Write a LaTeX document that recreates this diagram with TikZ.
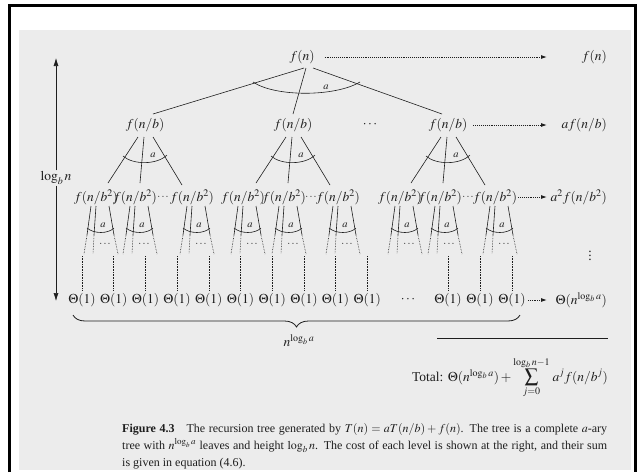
\documentclass[tikz,border=0pt]{standalone}
\usepackage{mathptmx}
\usepackage{fontspec}
\setmainfont{Liberation Serif}
\usetikzlibrary{arrows.meta,decorations.pathreplacing}

\definecolor{panel}{RGB}{236,236,236}
\definecolor{ink}{RGB}{30,30,30}

\begin{document}
\begin{tikzpicture}[x=1pt, y=-1pt,
    every node/.style={text=ink, inner sep=1pt, font=\fontsize{13.5}{15}\selectfont},
    arity/.style={inner sep=0pt, font=\fontsize{10.5}{12}\selectfont},
    branch/.style={draw=ink, line width=0.6pt},
    trail/.style={draw=ink, densely dotted, line width=0.6pt},
    cost/.style={draw=ink, densely dotted, line width=0.9pt, -{Latex[length=6pt,width=4pt]}},
    levelarrow/.style={draw=ink, line width=0.6pt, -{Latex[length=8pt,width=5pt]}}]
    % page
    \useasboundingbox (0,0) rectangle (638,472);
    \fill[white] (0,0) rectangle (638,472);
    \fill[panel] (19,30) rectangle (631,470);
    \draw[line width=2.8pt] (9.5,472) -- (9.5,5.5) -- (635.5,5.5) -- (635.5,472);

    % root
    \node (r) at (302,57) {$f(n)$};
    \node[anchor=east] (c0) at (608,57) {$f(n)$};
    \coordinate (t0) at (547,57);
    \draw[cost] ([xshift=9pt]r.east) -- (t0);

    % level 1
    \node (p1) at (145,125) {$f(n/b)$};
    \node (p2) at (293,125) {$f(n/b)$};
    \node (pd) at (370,125) {$\cdots$};
    \node (p3) at (448,125) {$f(n/b)$};
    \node[anchor=east] (c1) at (608,125) {$af(n/b)$};
    \coordinate (t1) at (547,125);
    \draw[cost] ([xshift=5pt]p3.east) -- (t1);

    \draw[branch] ([shift={(2,11)}]r.center) -- ([shift={(8,-11)}]p1.center);
    \draw[branch] ([shift={(4,11)}]r.center) -- ([shift={(0,-11)}]p2.center);
    \draw[branch] ([shift={(11,11)}]r.center) -- ([shift={(-6,-11)}]p3.center);
    \draw[branch] (253,82) .. controls (275,97) and (335,97) .. (360,82);
    \node[arity] (a0) at (326,87) {$a$};

    % level 2
    \node (q1) at (96,197) {$f(n/b^2)$};
    \node (q2) at (135,197) {$f(n/b^2)$};
    \node[arity] (qd1) at (163,197) {$\cdots$};
    \node (q3) at (192,197) {$f(n/b^2)$};
    \node (q4) at (243,197) {$f(n/b^2)$};
    \node (q5) at (284,197) {$f(n/b^2)$};
    \node[arity] (qd2) at (311,197) {$\cdots$};
    \node (q6) at (338,197) {$f(n/b^2)$};
    \node (q7) at (400,197) {$f(n/b^2)$};
    \node (q8) at (440,197) {$f(n/b^2)$};
    \node[arity] (qd3) at (468,197) {$\cdots$};
    \node (q9) at (495,197) {$f(n/b^2)$};
    \node[anchor=east] (c2) at (608,197) {$a^2f(n/b^2)$};
    \coordinate (t2) at (547,197);
    \draw[cost] (q9.east) -- (t2);

    \draw[branch] ([shift={(-7,12)}]p1.center) -- ([shift={(12,-14)}]q1.center);
    \draw[branch] ([shift={(-1,12)}]p1.center) -- ([shift={(5,-14)}]q2.center);
    \draw[branch] ([shift={(8,12)}]p1.center) -- ([shift={(-10,-12)}]q3.center);
    \draw[branch] (123,156) .. controls (133,165) and (157,165) .. (167,155);
    \node[arity] (a1) at (153,155) {$a$};

    \draw[branch] ([shift={(-7,12)}]p2.center) -- ([shift={(13,-14)}]q4.center);
    \draw[branch] ([shift={(-1,12)}]p2.center) -- ([shift={(4,-14)}]q5.center);
    \draw[branch] ([shift={(8,12)}]p2.center) -- ([shift={(-8,-12)}]q6.center);
    \draw[branch] (271,156) .. controls (281,165) and (305,165) .. (315,155);
    \node[arity] (a2) at (301,155) {$a$};

    \draw[branch] ([shift={(-7,12)}]p3.center) -- ([shift={(11,-14)}]q7.center);
    \draw[branch] ([shift={(-1,12)}]p3.center) -- ([shift={(3,-14)}]q8.center);
    \draw[branch] ([shift={(8,12)}]p3.center) -- ([shift={(-10,-12)}]q9.center);
    \draw[branch] (426,156) .. controls (436,165) and (460,165) .. (470,155);
    \node[arity] (a3) at (456,155) {$a$};

    % level 3, cut short
    \foreach \q in {q1,q2,q3,q4,q5,q6,q7,q8,q9} {
        \begin{scope}[shift={(\q.center)}]
            \draw[branch] (-5,9) -- (-9,38);
            \draw[branch] (0,9) -- (-2,38);
            \draw[branch] (13,9) -- (18,38);
            \draw[branch] (-9,31) .. controls (-2,37) and (12,37) .. (18,31);
            \draw[trail] (-9,38) -- (-12,57);
            \draw[trail] (-2,38) -- (-3,57);
            \draw[trail] (18,38) -- (22,57);
            \node[arity] (\q-a) at (7,28) {$a$};
            \node[arity] (\q-d) at (9,47) {$\cdots$};
        \end{scope}
    }
    \node (vd) at (590,253) {$\vdots$};

    % leaves
    \node (l1) at (82,300) {$\Theta(1)$};
    \node (l2) at (113.7,300) {$\Theta(1)$};
    \node (l3) at (145.4,300) {$\Theta(1)$};
    \node (l4) at (177.1,300) {$\Theta(1)$};
    \node (l5) at (208.8,300) {$\Theta(1)$};
    \node (l6) at (240.5,300) {$\Theta(1)$};
    \node (l7) at (272.2,300) {$\Theta(1)$};
    \node (l8) at (303.9,300) {$\Theta(1)$};
    \node (l9) at (335.6,300) {$\Theta(1)$};
    \node (l10) at (367.3,300) {$\Theta(1)$};
    \node (ld) at (408,300) {$\cdots$};
    \node (l11) at (448,300) {$\Theta(1)$};
    \node (l12) at (480,300) {$\Theta(1)$};
    \node (l13) at (512,300) {$\Theta(1)$};
    \node[anchor=east] (c4) at (608,300) {$\Theta(n^{\log_b a})$};
    \coordinate (t4) at (547,300);
    \draw[cost] ([xshift=1pt]l13.east) -- (t4);
    \foreach \i in {1,...,13}
        \draw[trail] ([shift={(0,-44)}]l\i.center) -- ([shift={(0,-9)}]l\i.center);

    % tree height
    \node (h) at (56,178) {$\log_b n$};
    \coordinate (htop) at (56,58);
    \coordinate (hbot) at (56,301);
    \draw[levelarrow] (h) -- (htop);
    \draw[levelarrow] (h) -- (hbot);

    % number of leaves and total
    \draw[draw=ink, line width=0.8pt, decorate, decoration={brace, mirror, amplitude=12pt}] (73,315) -- (520,315);
    \node (nb) at (299,341) {$n^{\log_b a}$};
    \draw[draw=ink, line width=0.6pt] (437,338) -- (608,338);
    \node[anchor=base east] (tot) at (609,381)
        {Total: $\Theta(n^{\log_b a}) + \displaystyle\sum_{j=0}^{\log_b n-1} \, a^j f(n/b^j)$};

    % caption
    \node[anchor=north west, inner sep=0pt, text width=485pt, align=justify,
          font=\fontsize{12}{17}\selectfont] (cap) at (122,423)
        {\textbf{Figure 4.3}\quad The recursion tree generated by $T(n) = aT(n/b) + f(n)$. The tree is a complete $a$-ary\linebreak tree with $n^{\log_b a}$ leaves and height $\log_b n$. The cost of each level is shown at the right, and their sum\linebreak is given in equation (4.6).};
\end{tikzpicture}
\end{document}
